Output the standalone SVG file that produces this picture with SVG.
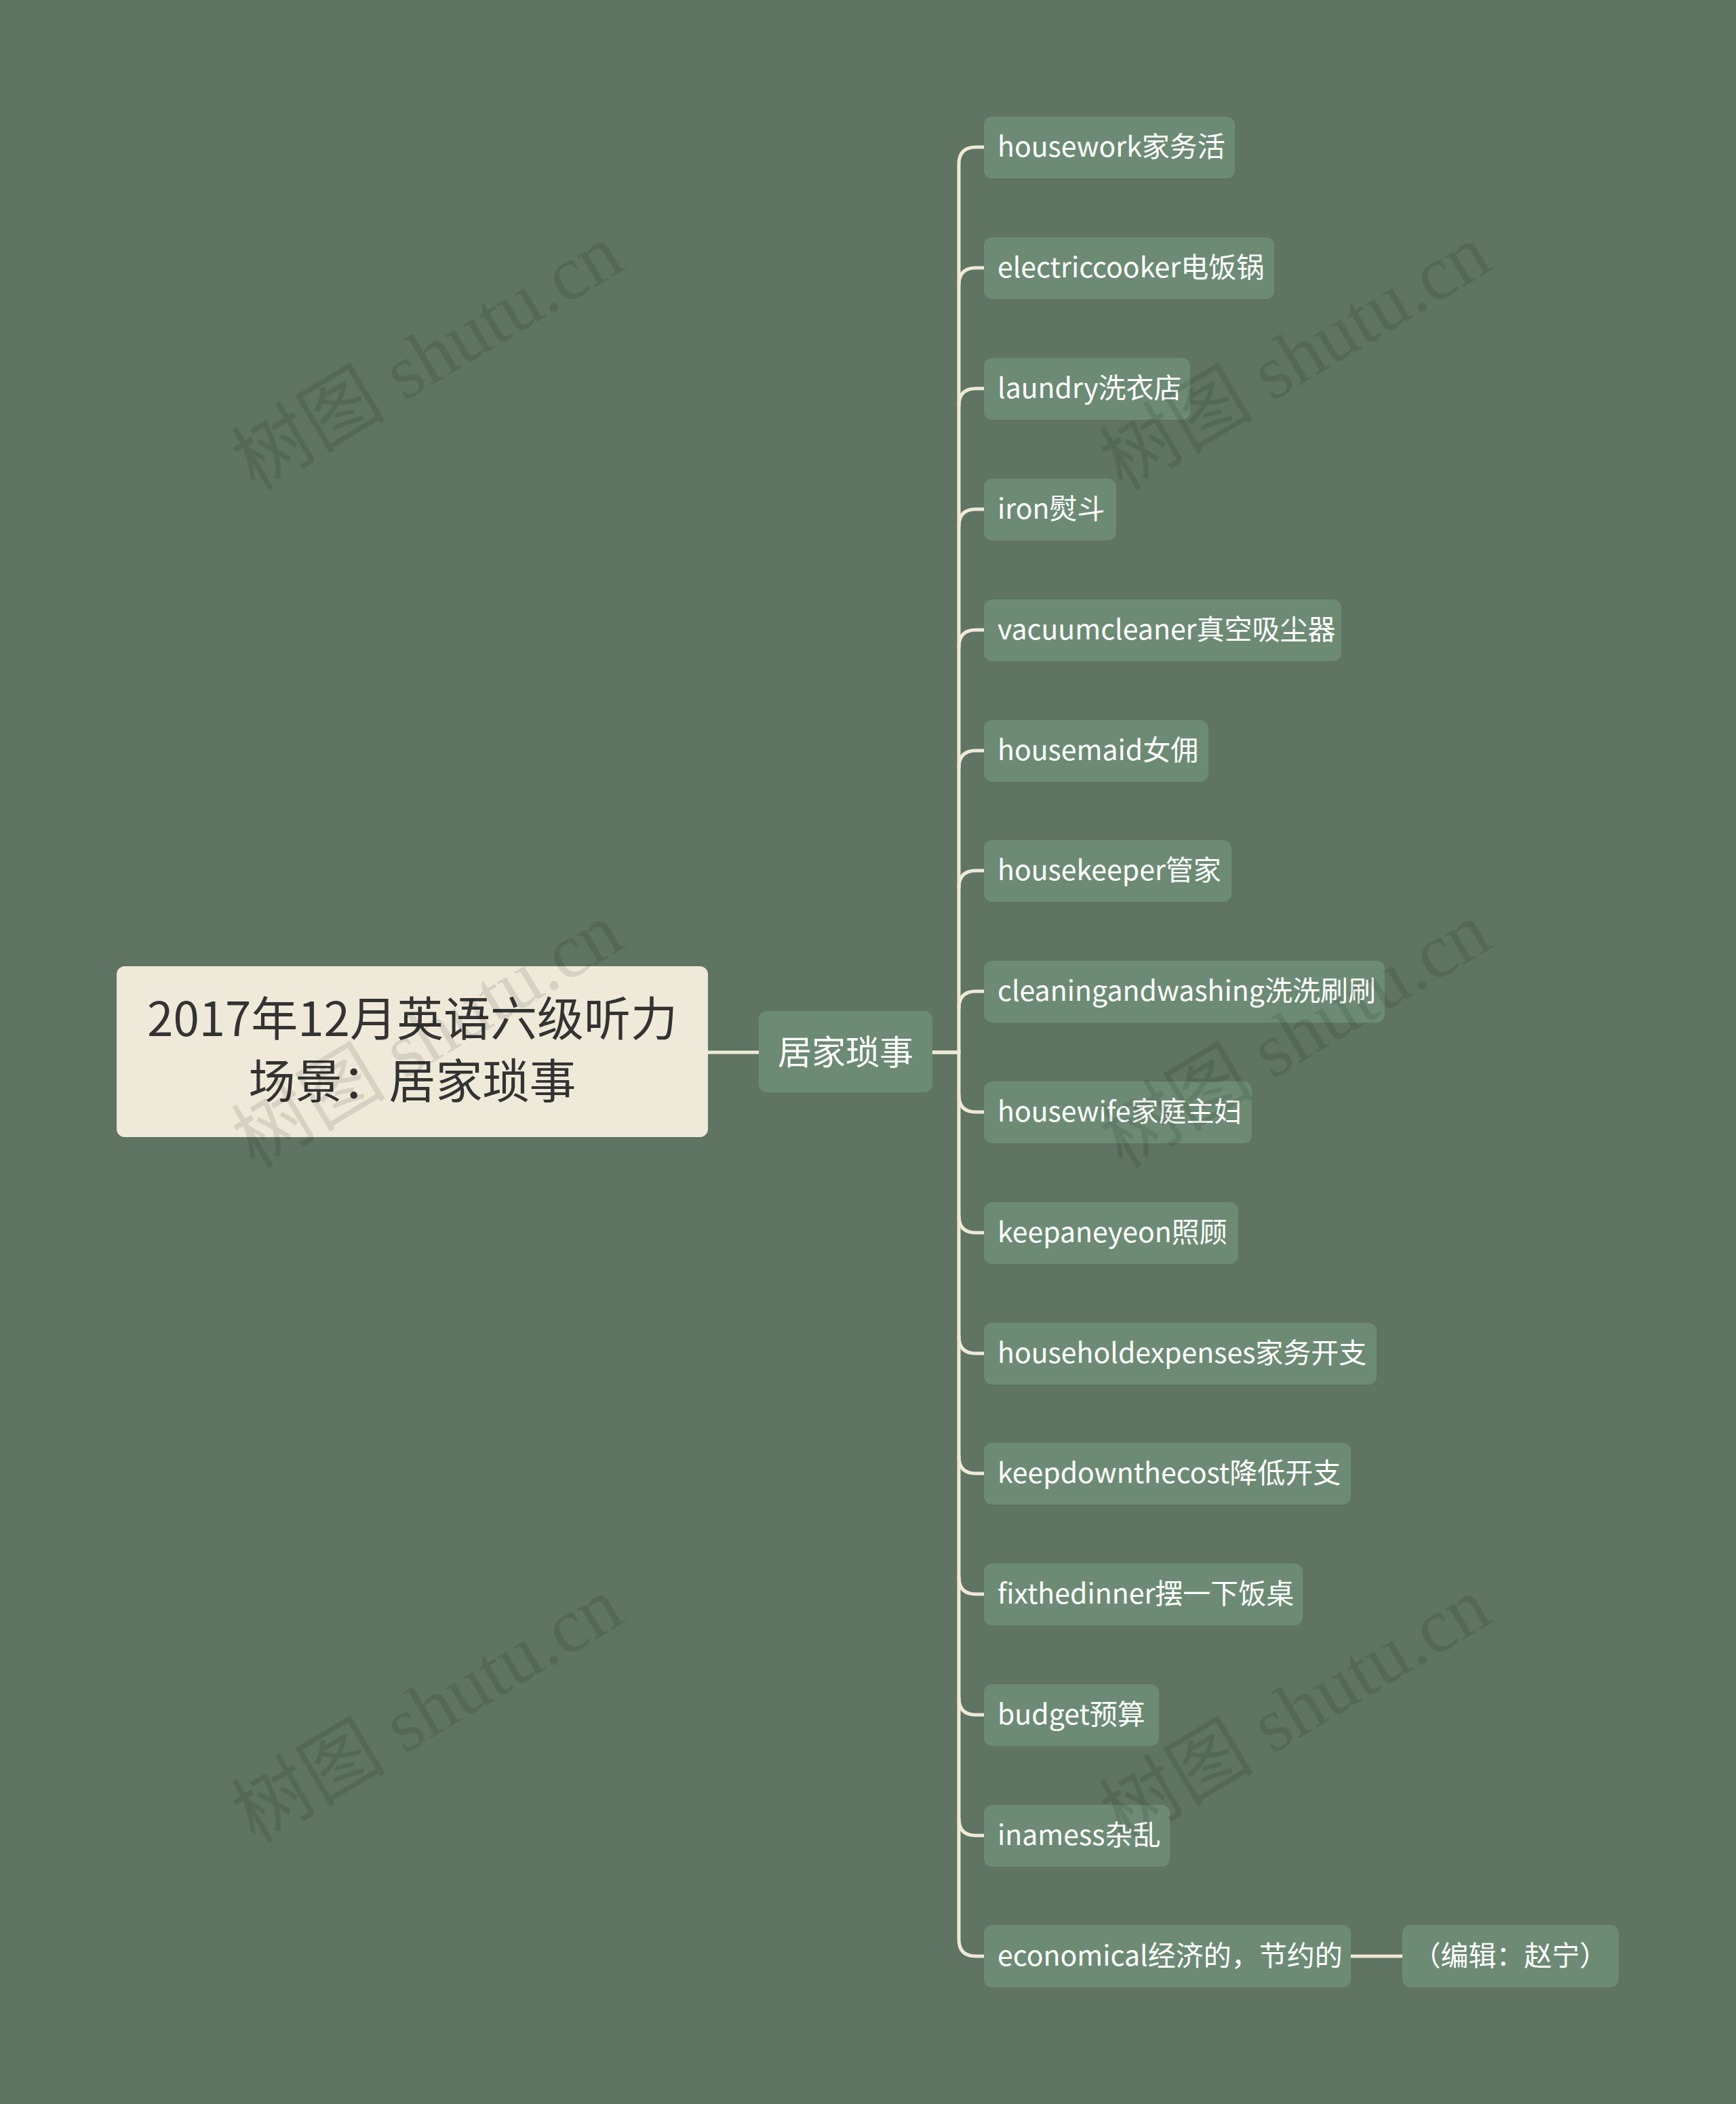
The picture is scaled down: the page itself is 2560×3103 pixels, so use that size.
<svg xmlns="http://www.w3.org/2000/svg" width="2560" height="3103" viewBox="0 0 2560 3103">
<style>
.bg{fill:#5f7462}
.leaf rect{fill:#6d8b74}
.leaf text{font-family:"Noto Sans CJK SC","Noto Sans",sans-serif;font-size:41px;fill:#ffffff}
.conn{fill:none;stroke:#efe9d6;stroke-width:5;stroke-linecap:round}
.wm{font-family:"Liberation Serif","Noto Sans CJK SC",serif;font-size:114px;fill:#000;fill-opacity:0.1}
</style>
<rect class="bg" x="0" y="0" width="2560" height="3103"/>
<g id="connectors">
<path class="conn" d="M1044 1552 H1119"/>
<path class="conn" d="M1375 1552 H1414 V242 Q1414 217 1439 217 H1451"/>
<path class="conn" d="M1414 420 Q1414 395 1439 395 H1451"/>
<path class="conn" d="M1414 598 Q1414 573 1439 573 H1451"/>
<path class="conn" d="M1414 776 Q1414 751 1439 751 H1451"/>
<path class="conn" d="M1414 954 Q1414 929 1439 929 H1451"/>
<path class="conn" d="M1414 1132 Q1414 1107 1439 1107 H1451"/>
<path class="conn" d="M1414 1309 Q1414 1284 1439 1284 H1451"/>
<path class="conn" d="M1414 1487 Q1414 1462 1439 1462 H1451"/>
<path class="conn" d="M1375 1552 H1414 V2860 Q1414 2885 1439 2885 H1451"/>
<path class="conn" d="M1414 1615 Q1414 1640 1439 1640 H1451"/>
<path class="conn" d="M1414 1793 Q1414 1818 1439 1818 H1451"/>
<path class="conn" d="M1414 1971 Q1414 1996 1439 1996 H1451"/>
<path class="conn" d="M1414 2148 Q1414 2173 1439 2173 H1451"/>
<path class="conn" d="M1414 2326 Q1414 2351 1439 2351 H1451"/>
<path class="conn" d="M1414 2504 Q1414 2529 1439 2529 H1451"/>
<path class="conn" d="M1414 2682 Q1414 2707 1439 2707 H1451"/>
<path class="conn" d="M1992 2885 H2068"/>
</g>
<g id="root">
<rect x="172" y="1425" width="872" height="252" rx="12" fill="#efe9d9"/>
<text font-family="Noto Sans CJK SC, sans-serif" font-size="69" fill="#333333" text-anchor="middle"><tspan x="608" y="1528">2017年12月英语六级听力</tspan><tspan x="608" y="1620">场景：居家琐事</tspan></text>
</g>
<g id="subject">
<rect x="1119" y="1491" width="256" height="120" rx="12" fill="#6d8b74"/>
<text x="1247" y="1570" font-family="Noto Sans CJK SC, sans-serif" font-size="50" fill="#ffffff" text-anchor="middle">居家琐事</text>
</g>
<g id="n1" class="leaf"><rect x="1451" y="172" width="370" height="91" rx="12"/><text x="1471" y="231">housework家务活</text></g>
<g id="n2" class="leaf"><rect x="1451" y="350" width="428" height="91" rx="12"/><text x="1471" y="409">electriccooker电饭锅</text></g>
<g id="n3" class="leaf"><rect x="1451" y="528" width="304" height="91" rx="12"/><text x="1471" y="587">laundry洗衣店</text></g>
<g id="n4" class="leaf"><rect x="1451" y="706" width="195" height="91" rx="12"/><text x="1471" y="765">iron熨斗</text></g>
<g id="n5" class="leaf"><rect x="1451" y="884" width="527" height="91" rx="12"/><text x="1471" y="943">vacuumcleaner真空吸尘器</text></g>
<g id="n6" class="leaf"><rect x="1451" y="1062" width="331" height="91" rx="12"/><text x="1471" y="1121">housemaid女佣</text></g>
<g id="n7" class="leaf"><rect x="1451" y="1239" width="365" height="91" rx="12"/><text x="1471" y="1298">housekeeper管家</text></g>
<g id="n8" class="leaf"><rect x="1451" y="1417" width="591" height="91" rx="12"/><text x="1471" y="1476">cleaningandwashing洗洗刷刷</text></g>
<g id="n9" class="leaf"><rect x="1451" y="1595" width="395" height="91" rx="12"/><text x="1471" y="1654">housewife家庭主妇</text></g>
<g id="n10" class="leaf"><rect x="1451" y="1773" width="375" height="91" rx="12"/><text x="1471" y="1832">keepaneyeon照顾</text></g>
<g id="n11" class="leaf"><rect x="1451" y="1951" width="579" height="91" rx="12"/><text x="1471" y="2010">householdexpenses家务开支</text></g>
<g id="n12" class="leaf"><rect x="1451" y="2128" width="541" height="91" rx="12"/><text x="1471" y="2187">keepdownthecost降低开支</text></g>
<g id="n13" class="leaf"><rect x="1451" y="2306" width="470" height="91" rx="12"/><text x="1471" y="2365">fixthedinner摆一下饭桌</text></g>
<g id="n14" class="leaf"><rect x="1451" y="2484" width="258" height="91" rx="12"/><text x="1471" y="2543">budget预算</text></g>
<g id="n15" class="leaf"><rect x="1451" y="2662" width="274" height="91" rx="12"/><text x="1471" y="2721">inamess杂乱</text></g>
<g id="n16" class="leaf"><rect x="1451" y="2839" width="541" height="92" rx="12"/><text x="1471" y="2899">economical经济的，节约的</text></g>
<g id="n17" class="leaf"><rect x="2068" y="2839" width="319" height="92" rx="12"/><text x="2227" y="2899" text-anchor="middle">（编辑：赵宁）</text></g>
<g id="watermarks">
<text class="wm" text-anchor="middle" transform="translate(650,560) rotate(-31)">树图 shutu.cn</text>
<text class="wm" text-anchor="middle" transform="translate(1930,560) rotate(-31)">树图 shutu.cn</text>
<text class="wm" text-anchor="middle" transform="translate(650,1560) rotate(-31)">树图 shutu.cn</text>
<text class="wm" text-anchor="middle" transform="translate(1930,1560) rotate(-31)">树图 shutu.cn</text>
<text class="wm" text-anchor="middle" transform="translate(650,2555) rotate(-31)">树图 shutu.cn</text>
<text class="wm" text-anchor="middle" transform="translate(1930,2555) rotate(-31)">树图 shutu.cn</text>
</g>
</svg>
